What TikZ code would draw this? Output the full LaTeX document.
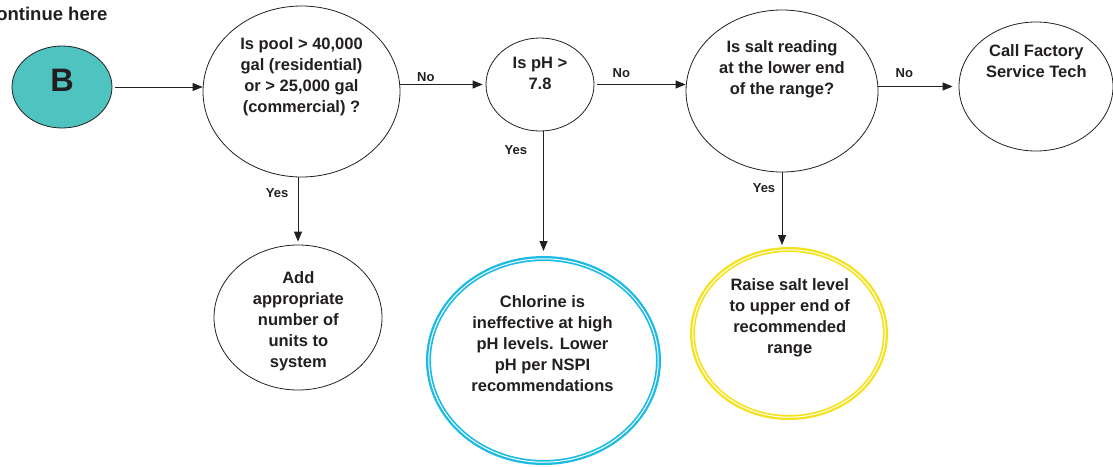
\documentclass[tikz,border=0pt]{standalone}
\usepackage{fontspec}
\setmainfont{Liberation Sans}
\usetikzlibrary{shapes.geometric,arrows.meta}
\definecolor{ink}{HTML}{231F20}
\definecolor{bteal}{HTML}{4EC3C0}
\definecolor{cyanring}{HTML}{1BBBE4}
\definecolor{yellowring}{HTML}{F6E21A}
\begin{document}
\begin{tikzpicture}[x=1pt,y=-1pt,
  ell/.style={ellipse, draw=ink, line width=0.8pt, inner sep=0pt, fill=white},
  ring/.style={ellipse, draw=#1, line width=5pt, inner sep=0pt, fill=white},
  txt/.style={font=\bfseries\fontsize{16.5}{21}\selectfont, text=ink, align=center, anchor=north, inner sep=0pt},
  lbl/.style={font=\bfseries\fontsize{13}{15}\selectfont, text=ink, anchor=base, inner sep=0pt},
  arr/.style={draw=ink, line width=0.9pt, -{Triangle[length=10pt,width=8pt]}}
]
\useasboundingbox (0,0) rectangle (1113,466);

% title
\node[font=\bfseries\fontsize{18.5}{22}\selectfont, text=ink, anchor=base east, inner sep=0pt] (title) at (107.5,20.7) {Continue here};

% ellipses
\node[ell, fill=bteal, minimum width=100pt, minimum height=82pt] (b) at (62,87) {};
\node[ell, minimum width=197pt, minimum height=171pt] (q1) at (301.5,91.5) {};
\node[ell, minimum width=108pt, minimum height=93pt] (q2) at (540,84.5) {};
\node[ell, minimum width=192pt, minimum height=162pt] (q3) at (782,91) {};
\node[ell, minimum width=154pt, minimum height=129pt] (q4) at (1036,86.5) {};
\node[ell, minimum width=168pt, minimum height=145pt] (a1) at (298,317.5) {};
\node[ring=cyanring, minimum width=230pt, minimum height=204pt] (a2) at (543.5,360.5) {};
\node[ring=yellowring, minimum width=193pt, minimum height=168pt] (a3) at (789,333.5) {};
\draw[white, line width=1pt] (a2.center) ellipse [x radius=114.7pt, y radius=101.7pt];
\draw[white, line width=1pt] (a3.center) ellipse [x radius=96.2pt, y radius=83.7pt];

% texts
\node[font=\bfseries\fontsize{32.5}{36}\selectfont, text=ink, anchor=base, inner sep=0pt] (tb) at (62,91.7) {B};
\node[txt] (t1) at (301.5,37) {Is pool > 40,000\\gal (residential)\\or > 25,000 gal\\(commercial) ?};
\node[txt] (t2) at (540,57) {Is pH >\\7.8};
\node[txt] (t3) at (782,40) {Is salt reading\\at the lower end\\of the range?};
\node[txt] (t4) at (1036.3,44.5) {Call Factory\\Service Tech};
\node[txt] (t5) at (298.3,271) {Add\\appropriate\\number of\\units to\\system};
\node[txt] (t6) at (542.5,295.5) {Chlorine is\\ineffective at high\\pH levels. Lower\\pH per NSPI\\recommendations};
\node[txt] (t7) at (789.7,278.3) {Raise salt level\\to upper end of\\recommended\\range};

% connectors
\draw[arr, shorten <=3pt] (b.east) -- (b.east -| q1.west);
\draw[arr, shorten >=3pt] (q1.east |- q2.west) -- (q2.west);
\draw[arr, shorten <=3pt] (q2.east) -- (q2.east -| q3.west);
\draw[arr, shorten >=6pt] (q3.east |- q4.west) -- (q4.west);
\draw[arr, shorten >=3pt] (a1.north |- q1.south) -- (a1.north);
\draw[arr, shorten >=5pt] (a2.north |- q2.south) -- (a2.north);
\draw[arr, shorten >=2pt] (q3.south) -- (q3.south |- a3.north);

% labels
\node[lbl] (l1) at (425.8,81.7) {No};
\node[lbl] (l2) at (621.3,77.3) {No};
\node[lbl] (l3) at (904.3,77.3) {No};
\node[lbl] (l4) at (277.2,197.7) {Yes};
\node[lbl] (l5) at (515.8,154.3) {Yes};
\node[lbl] (l6) at (764,192.7) {Yes};
\end{tikzpicture}
\end{document}
